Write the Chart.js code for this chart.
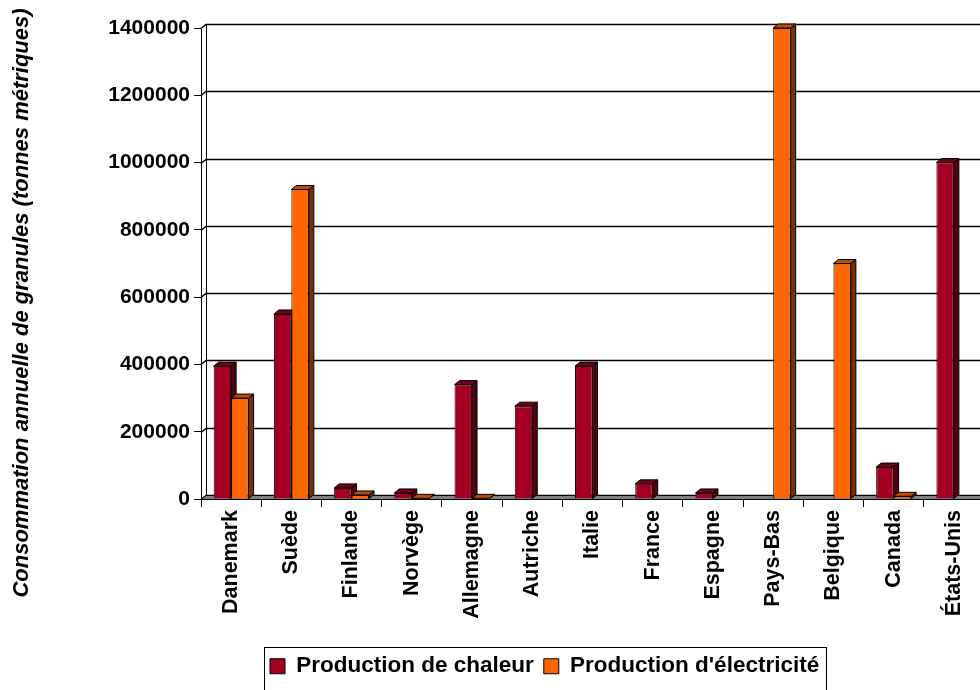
<!DOCTYPE html>
<html lang="fr">
<head>
<meta charset="utf-8">
<script src="https://cdn.jsdelivr.net/npm/chart.js@4.4.1/dist/chart.umd.min.js"></script>
<style>
  html, body { margin: 0; padding: 0; background: #fff; overflow: hidden; width: 980px; height: 690px; }
  canvas { display: block; }
</style>
</head>
<body>
<canvas id="c" width="1000" height="690"></canvas>
<script>
// Consommation annuelle de granules par pays (tonnes métriques)
const pays = ['Danemark', 'Suède', 'Finlande', 'Norvège', 'Allemagne', 'Autriche', 'Italie',
              'France', 'Espagne', 'Pays-Bas', 'Belgique', 'Canada', 'États-Unis'];
const chaleur     = [395000, 550000, 33000, 18000, 340000, 276000, 395000, 45000, 18000, null, null, 95000, 1000000];
const electricite = [300000, 920000, 12000, 2000, 2000, null, null, null, null, 1400000, 700000, 8000, null];
const yTicks = [0, 200000, 400000, 600000, 800000, 1000000, 1200000, 1400000];
const nomsSeries = ['Production de chaleur', "Production d'électricité"];
const titreAxeY = 'Consommation annuelle de granules (tonnes métriques)';

const FONT = '"Liberation Sans", Arial, Helvetica, sans-serif';
Chart.defaults.font.family = FONT;
Chart.defaults.color = '#000';

// depth of the pseudo-3D extrusion (px)
const DX = 5, DY = 4;

function poly(ctx, pts, fill) {
  ctx.beginPath();
  ctx.moveTo(pts[0][0], pts[0][1]);
  for (let i = 1; i < pts.length; i++) ctx.lineTo(pts[i][0], pts[i][1]);
  ctx.closePath();
  ctx.fillStyle = fill;
  ctx.fill();
  ctx.stroke();
}

// back wall grid, floor and the side/top faces of every bar
const relief = {
  id: 'relief',
  beforeDatasetsDraw(chart) {
    const { ctx, chartArea: a, scales: { y } } = chart;
    ctx.save();
    ctx.strokeStyle = '#000';
    ctx.lineWidth = 1.5;
    yTicks.forEach(v => {
      const py = Math.round(y.getPixelForValue(v)) + 0.5;
      ctx.beginPath();
      ctx.moveTo(a.left, py);
      ctx.lineTo(a.left + DX, py - DY);
      ctx.lineTo(a.right + DX, py - DY);
      ctx.stroke();
    });
    ctx.lineWidth = 1;
    ctx.beginPath();
    ctx.moveTo(a.left + DX + 0.5, Math.round(y.getPixelForValue(yTicks[yTicks.length - 1])) - DY);
    ctx.lineTo(a.left + DX + 0.5, a.bottom - DY);
    ctx.stroke();
    const b = Math.round(a.bottom) + 0.5;
    poly(ctx, [[a.left, b], [a.right, b], [a.right + DX, b - DY], [a.left + DX, b - DY]], '#808080');

    chart.data.datasets.forEach((ds, di) => {
      const meta = chart.getDatasetMeta(di);
      meta.data.forEach((bar, i) => {
        if (ds.data[i] == null) return;
        const { x, y: top, base, width } = bar.getProps(['x', 'y', 'base', 'width'], true);
        const l = x - width / 2, r = x + width / 2;
        poly(ctx, [[r, top], [r + DX, top - DY], [r + DX, base - DY], [r, base]], ds.sideColor);
        poly(ctx, [[l, top], [l + DX, top - DY], [r + DX, top - DY], [r, top]], ds.topColor);
      });
    });
    ctx.restore();
  }
};

// legend placement and frame, vertical axis title
const cadre = {
  id: 'cadre',
  afterLayout(chart) {
    const lg = chart.legend;
    const h = lg.height;
    lg.left = 260;
    lg.right = chart.width;
    lg.top = 645;
    lg.bottom = 645 + h;
  },
  afterDraw(chart) {
    const { ctx } = chart;
    const hb = chart.legend.legendHitBoxes;
    ctx.save();
    if (hb && hb.length) {
      const l = Math.round(hb[0].left) - 6;
      const last = hb[hb.length - 1];
      const r = Math.round(last.left + last.width) + 7;
      ctx.strokeStyle = '#000';
      ctx.lineWidth = 1;
      ctx.strokeRect(l + 0.5, 647.5, r - l, 80);
    }
    ctx.translate(22, 303);
    ctx.rotate(-Math.PI / 2);
    ctx.font = 'italic bold 22px ' + FONT;
    ctx.fillStyle = '#000';
    ctx.textAlign = 'center';
    ctx.textBaseline = 'middle';
    ctx.fillText(titreAxeY, 0, 0);
    ctx.restore();
  }
};

new Chart(document.getElementById('c'), {
  type: 'bar',
  data: {
    labels: pays,
    datasets: [
      { label: nomsSeries[0], data: chaleur, backgroundColor: '#A50021', borderColor: '#000', borderWidth: 1,
        sideColor: '#55000F', topColor: '#74001A' },
      { label: nomsSeries[1], data: electricite, backgroundColor: '#FF6600', borderColor: '#000', borderWidth: 1,
        sideColor: '#7A3000', topColor: '#C04C00' }
    ]
  },
  options: {
    responsive: false,
    animation: false,
    events: [],
    layout: { padding: { left: 0, top: 28, right: 16, bottom: 0 } },
    datasets: { bar: { categoryPercentage: 0.58, barPercentage: 1.0 } },
    plugins: {
      tooltip: { enabled: false },
      legend: {
        position: 'bottom',
        align: 'start',
        labels: {
          boxWidth: 15, boxHeight: 15, padding: 10,
          font: { size: 22.5, weight: 'bold' }, color: '#000'
        }
      }
    },
    scales: {
      x: {
        grid: { display: true, drawOnChartArea: false, drawTicks: true, tickLength: 8, color: '#000', offset: true },
        border: { display: true, color: '#000', width: 1 },
        ticks: { autoSkip: false, minRotation: 90, maxRotation: 90, padding: 3,
                 font: { size: 21.5, weight: 'bold' }, color: '#000' },
        afterFit(s) { s.height = 690 - 499 - s.chart.legend.height; }
      },
      y: {
        min: 0, max: 1400000,
        afterBuildTicks(s) { s.ticks = yTicks.map(v => ({ value: v })); },
        grid: { display: true, drawOnChartArea: false, drawTicks: true, tickLength: 7, color: '#000' },
        border: { display: true, color: '#000', width: 1 },
        ticks: { padding: 4, font: { size: 21, weight: 'bold' }, color: '#000',
                 callback: v => String(v) },
        afterFit(s) { s.width = 201; }
      }
    }
  },
  plugins: [relief, cadre]
});
</script>
</body>
</html>
